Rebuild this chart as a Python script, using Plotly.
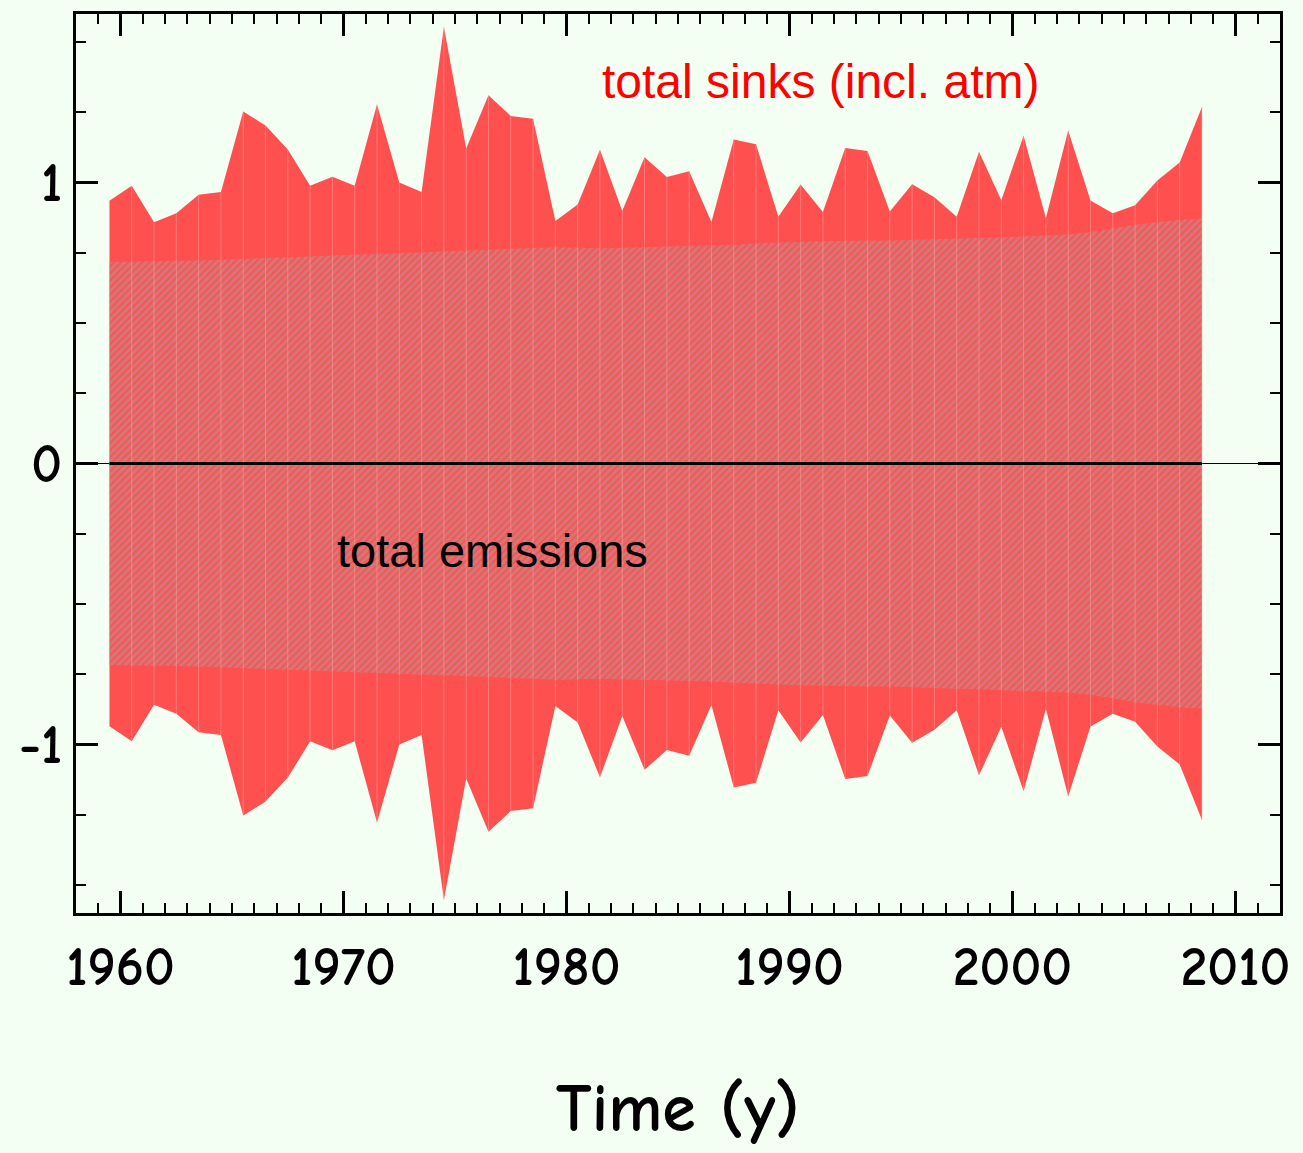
import plotly.graph_objects as go

years = [y + 0.5 for y in range(1959, 2009)]

total_sinks = [0.935, 0.989, 0.859, 0.891, 0.957, 0.966, 1.253, 1.203, 1.118, 0.989,
               1.021, 0.989, 1.278, 1.000, 0.966, 1.554, 1.121, 1.311, 1.237, 1.227,
               0.863, 0.922, 1.117, 0.899, 1.090, 1.020, 1.040, 0.860, 1.153, 1.136,
               0.878, 0.993, 0.895, 1.123, 1.112, 0.897, 0.994, 0.948, 0.878, 1.110,
               0.937, 1.167, 0.873, 1.185, 0.936, 0.891, 0.919, 1.007, 1.071, 1.269]

total_emissions = [0.717, 0.718, 0.719, 0.721, 0.723, 0.725, 0.728, 0.731, 0.734, 0.737,
                   0.740, 0.743, 0.746, 0.749, 0.752, 0.755, 0.757, 0.760, 0.763, 0.766,
                   0.770, 0.768, 0.766, 0.768, 0.770, 0.772, 0.774, 0.776, 0.779, 0.783,
                   0.787, 0.789, 0.791, 0.793, 0.794, 0.794, 0.796, 0.799, 0.802, 0.804,
                   0.806, 0.808, 0.812, 0.815, 0.823, 0.836, 0.850, 0.859, 0.868, 0.872]

x_ticks = [1960, 1970, 1980, 1990, 2000, 2010]
y_ticks = [-1, 0, 1]

BG = "#F2FFF2"
RED = "#FF5050"

fig = go.Figure()

# Outer: total sinks (symmetric band)
fig.add_trace(go.Scatter(
    x=years + years[::-1],
    y=total_sinks + [-v for v in total_sinks[::-1]],
    fill="toself", fillcolor=RED, mode="lines", line=dict(width=0),
    hoverinfo="skip", showlegend=False))

# Inner: total emissions (hatched band)
fig.add_trace(go.Scatter(
    x=years + years[::-1],
    y=total_emissions + [-v for v in total_emissions[::-1]],
    fill="toself", mode="lines", line=dict(width=0),
    fillcolor=RED,
    fillpattern=dict(shape="/", fgcolor="#A4A0A0", bgcolor=RED, size=5, solidity=0.6),
    hoverinfo="skip", showlegend=False))

# faint vertical strip seams at each data year
vx, vy = [], []
for x, s in zip(years, total_sinks):
    vx += [x, x, None]
    vy += [-s, s, None]
fig.add_trace(go.Scatter(x=vx, y=vy, mode="lines",
                         line=dict(color="rgba(255,170,170,0.45)", width=1),
                         hoverinfo="skip", showlegend=False))

# zero line over data range
fig.add_trace(go.Scatter(x=[years[0], years[-1]], y=[0, 0], mode="lines",
                         line=dict(color="black", width=3),
                         hoverinfo="skip", showlegend=False))

comic = "Comic Sans MS, Comic Neue, DejaVu Sans"
tick_font = dict(family=comic, size=54, color="black", weight="bold")

fig.update_layout(
    width=1303, height=1153,
    margin=dict(l=76, r=23, t=11, b=240),
    paper_bgcolor=BG, plot_bgcolor=BG,
    xaxis=dict(range=[1958, 2012], tickmode="array", tickvals=x_ticks,
               ticktext=[str(t) for t in x_ticks],
               ticks="inside", ticklen=22, tickwidth=3, tickcolor="black",
               minor=dict(dtick=1, tick0=1958, ticks="inside", ticklen=10, tickwidth=2, tickcolor="black"),
               showline=True, linecolor="black", linewidth=3, mirror="allticks",
               showgrid=False, zeroline=False, tickfont=tick_font, ticklabelstandoff=4),
    yaxis=dict(range=[-1.6, 1.6], tickmode="array", tickvals=y_ticks,
               ticktext=["-1", "0", "1"],
               ticks="inside", ticklen=22, tickwidth=3, tickcolor="black",
               minor=dict(dtick=0.25, tick0=0, ticks="inside", ticklen=10, tickwidth=2, tickcolor="black"),
               showline=True, linecolor="black", linewidth=3, mirror="allticks",
               showgrid=False, zeroline=True, zerolinecolor="black", zerolinewidth=1,
               tickfont=tick_font, ticklabelstandoff=0),
    annotations=[
        dict(x=1991.4, y=1.36, xref="x", yref="y", text="total sinks (incl. atm)",
             showarrow=False, font=dict(family="Liberation Sans, Arial", size=48, color="#FF0000")),
        dict(x=1976.7, y=-0.31, xref="x", yref="y", text="total emissions",
             showarrow=False, font=dict(family="Liberation Sans, Arial", size=47, color="black")),
        dict(x=0.5, y=-0.218, xref="paper", yref="paper", text="Time (y)",
             showarrow=False, yanchor="middle",
             font=dict(family=comic, size=68, color="black", weight="bold")),
    ],
)

fig.write_html("out.html")
